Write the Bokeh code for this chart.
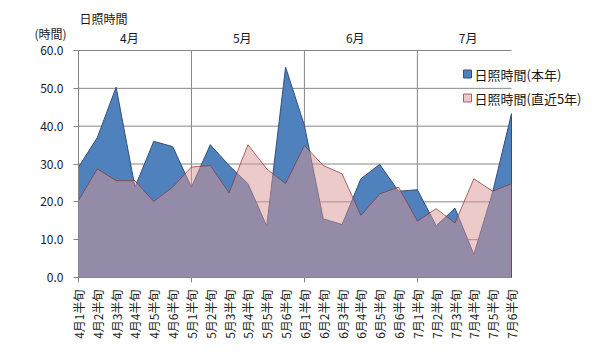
import math
from bokeh.plotting import figure
from bokeh.models import Range1d, FixedTicker, LinearAxis, Label, BoxAnnotation
from bokeh.embed import file_html
from bokeh.resources import INLINE

# ---- data ----
categories = ["4月1半旬", "4月2半旬", "4月3半旬", "4月4半旬", "4月5半旬", "4月6半旬",
              "5月1半旬", "5月2半旬", "5月3半旬", "5月4半旬", "5月5半旬", "5月6半旬",
              "6月1半旬", "6月2半旬", "6月3半旬", "6月4半旬", "6月5半旬", "6月6半旬",
              "7月1半旬", "7月2半旬", "7月3半旬", "7月4半旬", "7月5半旬", "7月6半旬"]
this_year = [29.2, 37.0, 50.3, 23.9, 36.0, 34.6,
             23.9, 35.1, 29.6, 24.8, 13.6, 55.6,
             40.2, 15.5, 14.0, 26.1, 29.9, 22.8,
             23.2, 13.7, 18.3, 6.1, 22.6, 43.3]
recent_5y = [20.4, 28.7, 25.6, 25.6, 20.1, 23.9,
             29.2, 29.6, 22.4, 35.1, 28.7, 24.8,
             34.9, 29.6, 27.4, 16.4, 22.1, 23.9,
             14.9, 18.2, 14.4, 26.1, 22.8, 24.8]
months = ["4月", "5月", "6月", "7月"]
y_ticks = [0, 10, 20, 30, 40, 50, 60]
month_grid = [0, 6, 12, 18]
series_names = ["日照時間(本年)", "日照時間(直近5年)"]

FONT = "Noto Sans CJK JP"
GRID = "#868686"
TXT = "#1a1a1a"
BLUE_FILL, BLUE_LINE = "#4F81BD", "#2F4F7F"
PINK_FILL, PINK_LINE = "#D99694", "#8C3A3A"

# ---- layout (pixels) ----
W, H = 604, 356
X_LEFT_PX, X_RIGHT_PX = 78, 511      # plot area left / right
Y_BOTTOM_PX, Y_TOP_PX = 277, 50      # plot area bottom / top (from top of canvas)
Y_MAX = 60

n = len(categories)
xs = list(range(n))
dx = (X_RIGHT_PX - X_LEFT_PX) / (n - 1)
dy = (Y_BOTTOM_PX - Y_TOP_PX) / Y_MAX
x_range = Range1d(-X_LEFT_PX / dx, (n - 1) + (W - X_RIGHT_PX) / dx)
y_range = Range1d(-(H - Y_BOTTOM_PX) / dy, Y_MAX + Y_TOP_PX / dy)

p = figure(width=W, height=H, output_backend="svg", toolbar_location=None,
           x_range=x_range, y_range=y_range,
           min_border=0, x_axis_type=None, y_axis_type=None)
p.outline_line_color = None
p.background_fill_color = "white"
p.border_fill_color = "white"
p.xgrid.visible = False
p.ygrid.visible = False

# grid lines (limited to the plot area)
p.segment(x0=[0] * len(y_ticks), x1=[n - 1] * len(y_ticks), y0=y_ticks, y1=y_ticks,
          line_color=GRID, line_width=1)
p.segment(x0=month_grid, x1=month_grid, y0=[0] * len(month_grid), y1=[Y_MAX] * len(month_grid),
          line_color=GRID, line_width=1)

# areas
px = xs + [n - 1, 0]
p.patch(px, this_year + [0, 0], fill_color=BLUE_FILL, line_color=BLUE_LINE, line_width=1)
p.patch(px, recent_5y + [0, 0], fill_color=PINK_FILL, fill_alpha=0.5,
        line_color=PINK_LINE, line_alpha=0.75, line_width=1)

# y axis
yax = LinearAxis(ticker=FixedTicker(ticks=y_ticks), fixed_location=0, bounds=(0, Y_MAX),
                 major_label_overrides={t: f"{t:.1f}" for t in y_ticks})
yax.axis_line_color = GRID
yax.major_tick_line_color = GRID
yax.major_tick_out = 5
yax.major_tick_in = 0
yax.minor_tick_line_color = None
yax.major_label_standoff = 10
yax.major_label_text_font = FONT
yax.major_label_text_font_size = "12px"
yax.major_label_text_color = TXT
p.add_layout(yax, "left")

# bottom axis
xax = LinearAxis(ticker=FixedTicker(ticks=xs, minor_ticks=month_grid), fixed_location=0,
                 bounds=(0, n - 1),
                 major_label_overrides={i: c for i, c in enumerate(categories)})
xax.axis_line_color = GRID
xax.major_tick_line_color = None
xax.major_tick_out = 0
xax.major_tick_in = 0
xax.minor_tick_line_color = GRID
xax.minor_tick_out = 5
xax.minor_tick_in = 0
xax.major_label_orientation = math.pi / 2
xax.major_label_standoff = 7
xax.major_label_text_font = FONT
xax.major_label_text_font_size = "12px"
xax.major_label_text_color = TXT
p.add_layout(xax, "below")

# top month axis
month_pos = [g + 2.7 for g in month_grid]
tax = LinearAxis(ticker=FixedTicker(ticks=month_pos), fixed_location=Y_MAX,
                 major_label_overrides={pos: m for pos, m in zip(month_pos, months)})
tax.axis_line_color = None
tax.major_tick_line_color = None
tax.major_tick_out = 0
tax.major_tick_in = 0
tax.minor_tick_line_color = None
tax.major_label_standoff = 5
tax.major_label_text_font = FONT
tax.major_label_text_font_size = "12px"
tax.major_label_text_color = TXT
p.add_layout(tax, "above")

# titles (screen units, from bottom-left of canvas)
p.add_layout(Label(x=79, y=H - 18, x_units="screen", y_units="screen", text="日照時間",
                   text_font=FONT, text_font_size="12px", text_color=TXT,
                   text_align="left", text_baseline="middle"))
p.add_layout(Label(x=50, y=H - 33, x_units="screen", y_units="screen", text="(時間)",
                   text_font=FONT, text_font_size="12px", text_color=TXT,
                   text_align="center", text_baseline="middle"))

# legend (manual: swatches + texts)
leg_x = 463
leg_rows = [(H - 73.5, BLUE_FILL, 1.0, BLUE_LINE, 1.0), (H - 97.5, PINK_FILL, 0.5, PINK_LINE, 0.75)]
for (cy, fc, fa, lc, la), name in zip(leg_rows, series_names):
    p.add_layout(BoxAnnotation(left=leg_x, right=leg_x + 8, bottom=cy - 4, top=cy + 4,
                               left_units="screen", right_units="screen",
                               bottom_units="screen", top_units="screen",
                               fill_color=fc, fill_alpha=fa, line_color=lc, line_alpha=la,
                               line_width=1, level="overlay"))
    p.add_layout(Label(x=leg_x + 11, y=cy, x_units="screen", y_units="screen", text=name,
                       text_font=FONT, text_font_size="13px", text_color=TXT,
                       text_align="left", text_baseline="middle"))

open("out.html", "w").write(file_html(p, INLINE))
